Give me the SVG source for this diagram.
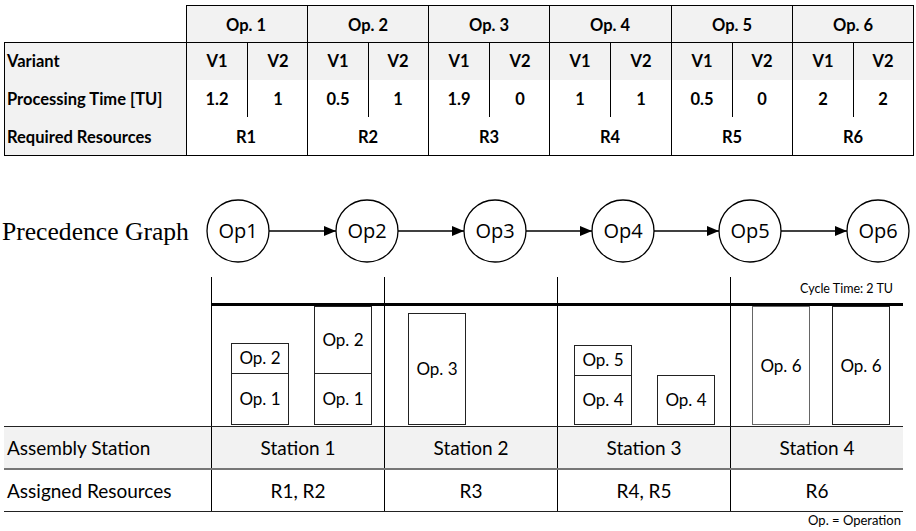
<svg xmlns="http://www.w3.org/2000/svg" width="916" height="531" viewBox="0 0 916 531">
  <style>
    .t { font-family: Lato, "Liberation Sans", sans-serif; fill: #000; }
    .b { font-weight: bold; font-size: 16.5px; }
    .c { text-anchor: middle; }
    .grid { stroke: #000; stroke-width: 1; fill: none; }
    .box { fill: #fff; stroke: #222; stroke-width: 1; }
    .node circle { fill: #fff; stroke: #000; stroke-width: 1.3; }
    .node text { font-family: "Open Sans", "Liberation Sans", sans-serif; font-size: 20px; text-anchor: middle; }
    .edge { stroke: #000; stroke-width: 1.3; fill: none; marker-end: url(#arr); }
    .lbl { font-size: 17px; }
    .row { font-size: 19px; }
  </style>
  <defs>
    <marker id="arr" markerWidth="12" markerHeight="12" refX="12" refY="6" orient="auto" markerUnits="userSpaceOnUse">
      <path d="M0,1 L12,6 L0,11 Z" fill="#000"/>
    </marker>
  </defs>

  <rect width="916" height="531" fill="#fff"/>

  <!-- Variant table -->
  <g id="variant-table">
    <rect x="186" y="5" width="727" height="37" fill="#f2f2f2"/>
    <rect x="4" y="42" width="909" height="38" fill="#f2f2f2"/>
    <rect x="4" y="80" width="182" height="75" fill="#f2f2f2"/>
    <path class="grid" d="M186,5.5 H913 M4,42.5 H913 M4,155.5 H913 M4.5,42 V155 M913.5,5 V156
      M186.5,5 V155 M307.5,5 V155 M428.5,5 V155 M549.5,5 V155 M671.5,5 V155 M792.5,5 V155
      M247.5,42 V117 M368.5,42 V117 M489.5,42 V117 M610.5,42 V117 M732.5,42 V117 M853.5,42 V117"/>
    <g class="t b">
      <text x="7" y="67">Variant</text>
      <text x="7" y="105">Processing Time [TU]</text>
      <text x="7" y="143">Required Resources</text>
    </g>
    <g class="t b c">
      <text x="246" y="31">Op. 1</text>
      <text x="368" y="31">Op. 2</text>
      <text x="489" y="31">Op. 3</text>
      <text x="610" y="31">Op. 4</text>
      <text x="732" y="31">Op. 5</text>
      <text x="853" y="31">Op. 6</text>

      <text x="217" y="67">V1</text><text x="278" y="67">V2</text>
      <text x="338" y="67">V1</text><text x="398" y="67">V2</text>
      <text x="459" y="67">V1</text><text x="520" y="67">V2</text>
      <text x="580" y="67">V1</text><text x="641" y="67">V2</text>
      <text x="702" y="67">V1</text><text x="762" y="67">V2</text>
      <text x="823" y="67">V1</text><text x="883" y="67">V2</text>

      <text x="217" y="105">1.2</text><text x="278" y="105">1</text>
      <text x="338" y="105">0.5</text><text x="398" y="105">1</text>
      <text x="459" y="105">1.9</text><text x="520" y="105">0</text>
      <text x="580" y="105">1</text><text x="641" y="105">1</text>
      <text x="702" y="105">0.5</text><text x="762" y="105">0</text>
      <text x="823" y="105">2</text><text x="883" y="105">2</text>

      <text x="246" y="143">R1</text>
      <text x="368" y="143">R2</text>
      <text x="489" y="143">R3</text>
      <text x="610" y="143">R4</text>
      <text x="732" y="143">R5</text>
      <text x="853" y="143">R6</text>
    </g>
  </g>

  <!-- Precedence graph -->
  <text x="2" y="240" style="font-family:'Liberation Serif', serif; font-size:25.6px;">Precedence Graph</text>
  <g id="op1" class="node"><circle cx="238" cy="231" r="31"/><text x="238" y="238">Op1</text></g>
  <g id="op2" class="node"><circle cx="367" cy="231" r="31"/><text x="367" y="238">Op2</text></g>
  <g id="op3" class="node"><circle cx="495" cy="231" r="31"/><text x="495" y="238">Op3</text></g>
  <g id="op4" class="node"><circle cx="623" cy="231" r="31"/><text x="623" y="238">Op4</text></g>
  <g id="op5" class="node"><circle cx="750" cy="231" r="31"/><text x="750" y="238">Op5</text></g>
  <g id="op6" class="node"><circle cx="878" cy="231" r="31"/><text x="878" y="238">Op6</text></g>
  <g id="edges">
    <line class="edge" x1="269" y1="231" x2="336" y2="231"/>
    <line class="edge" x1="398" y1="231" x2="464" y2="231"/>
    <line class="edge" x1="526" y1="231" x2="592" y2="231"/>
    <line class="edge" x1="654" y1="231" x2="719" y2="231"/>
    <line class="edge" x1="781" y1="231" x2="847" y2="231"/>
  </g>

  <!-- Station chart -->
  <g id="stations">
    <rect x="4" y="426" width="899" height="43" fill="#f2f2f2"/>
    <path d="M211.5,277 V512 M384.5,277 V512 M557.5,277 V512 M730.5,277 V512" stroke="#000" stroke-width="1"/>
    <line x1="211" y1="304.5" x2="903" y2="304.5" stroke="#000" stroke-width="3"/>
    <path d="M4,426.5 H903 M4,511.5 H903" stroke="#222" stroke-width="1"/>
    <line x1="4" y1="469" x2="903" y2="469" stroke="#777" stroke-width="2"/>
    <text class="t" x="893" y="293" style="font-size:12.5px;text-anchor:end;">Cycle Time: 2 TU</text>

    <g id="s1-v1">
      <rect class="box" x="231.5" y="343.5" width="57" height="30"/>
      <rect class="box" x="231.5" y="373.5" width="57" height="51"/>
      <text class="t lbl c" x="260" y="364">Op. 2</text>
      <text class="t lbl c" x="260" y="405">Op. 1</text>
    </g>
    <g id="s1-v2">
      <rect class="box" x="314.5" y="306.5" width="57" height="67"/>
      <rect class="box" x="314.5" y="373.5" width="57" height="51"/>
      <text class="t lbl c" x="343" y="346">Op. 2</text>
      <text class="t lbl c" x="343" y="405">Op. 1</text>
    </g>
    <g id="s2-v1">
      <rect class="box" x="408.5" y="313.5" width="57" height="111"/>
      <text class="t lbl c" x="437" y="375">Op. 3</text>
    </g>
    <g id="s3-v1">
      <rect class="box" x="574.5" y="345.5" width="57" height="30"/>
      <rect class="box" x="574.5" y="375.5" width="57" height="49"/>
      <text class="t lbl c" x="603" y="366">Op. 5</text>
      <text class="t lbl c" x="603" y="406">Op. 4</text>
    </g>
    <g id="s3-v2">
      <rect class="box" x="657.5" y="375.5" width="57" height="49"/>
      <text class="t lbl c" x="686" y="406">Op. 4</text>
    </g>
    <g id="s4-v1">
      <rect class="box" x="752.5" y="306.5" width="57" height="118" style="stroke:#666"/>
      <text class="t lbl c" x="781" y="372">Op. 6</text>
    </g>
    <g id="s4-v2">
      <rect class="box" x="832.5" y="306.5" width="57" height="118"/>
      <text class="t lbl c" x="861" y="372">Op. 6</text>
    </g>

    <text class="t row" x="7" y="455">Assembly Station</text>
    <text class="t row" x="7" y="498">Assigned Resources</text>
    <g class="t row c">
      <text x="298" y="455">Station 1</text>
      <text x="471" y="455">Station 2</text>
      <text x="644" y="455">Station 3</text>
      <text x="817" y="455">Station 4</text>
      <text x="298" y="498">R1, R2</text>
      <text x="471" y="498">R3</text>
      <text x="644" y="498">R4, R5</text>
      <text x="817" y="498">R6</text>
    </g>
    <text class="t" x="901" y="525" style="font-size:13px;text-anchor:end;">Op. = Operation</text>
  </g>
</svg>
